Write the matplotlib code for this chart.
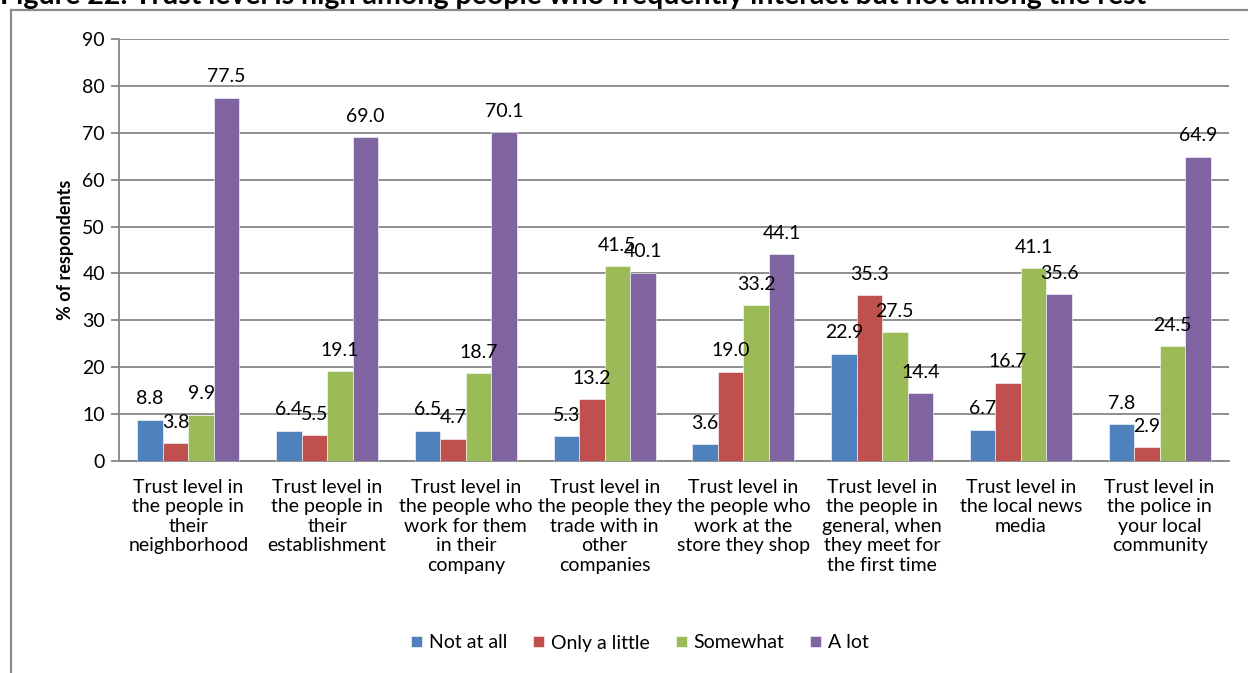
import numpy as np
import matplotlib.pyplot as plt

plt.rcParams['font.family'] = ['Lato', 'DejaVu Sans']

categories = [
    "Trust level in\nthe people in\ntheir\nneighborhood",
    "Trust level in\nthe people in\ntheir\nestablishment",
    "Trust level in\nthe people who\nwork for them\nin their\ncompany",
    "Trust level in\nthe people they\ntrade with in\nother\ncompanies",
    "Trust level in\nthe people who\nwork at the\nstore they shop",
    "Trust level in\nthe people in\ngeneral, when\nthey meet for\nthe first time",
    "Trust level in\nthe local news\nmedia",
    "Trust level in\nthe police in\nyour local\ncommunity",
]
series_names = ["Not at all", "Only a little", "Somewhat", "A lot"]
not_at_all = [8.8, 6.4, 6.5, 5.3, 3.6, 22.9, 6.7, 7.8]
only_a_little = [3.8, 5.5, 4.7, 13.2, 19.0, 35.3, 16.7, 2.9]
somewhat = [9.9, 19.1, 18.7, 41.5, 33.2, 27.5, 41.1, 24.5]
a_lot = [77.5, 69.0, 70.1, 40.1, 44.1, 14.4, 35.6, 64.9]
colors = ["#4F81BD", "#C0504D", "#9BBB59", "#8064A2"]

W, H = 1248, 673
fig = plt.figure(figsize=(W / 100, H / 100), dpi=100)

# outer chart frame (left and top edges visible)
fig.add_artist(plt.Line2D([11 / W, 11 / W], [0, 1 - 10 / H], transform=fig.transFigure,
                          color="#8c8c8c", lw=1.6))
fig.add_artist(plt.Line2D([11 / W, 1], [1 - 10 / H, 1 - 10 / H], transform=fig.transFigure,
                          color="#8c8c8c", lw=1.6))

fig.text(0 / W, 1 - 4 / H,
         "Figure 22: Trust level is high among people who frequently interact but not among the rest",
         fontsize=20.5, fontweight="bold", va="baseline", ha="left")

left, right, top, bottom = 119, 1229, 39, 461
ax = fig.add_axes([left / W, 1 - bottom / H, (right - left) / W, (bottom - top) / H])

fs = 14
x = np.arange(len(categories))
bw = 0.184
all_series = [not_at_all, only_a_little, somewhat, a_lot]
for i, (vals, name, c) in enumerate(zip(all_series, series_names, colors)):
    pos = x + (i - 1.5) * bw
    ax.bar(pos, vals, width=bw, color=c, label=name, zorder=3,
           edgecolor="white", linewidth=0.4)
    for px, v in zip(pos, vals):
        ax.annotate(f"{v:.1f}", (px, v), xytext=(0, 9), textcoords="offset points",
                    ha="center", va="bottom", fontsize=fs, zorder=4)

ax.set_xlim(-0.5, len(categories) - 0.5)
ax.set_ylim(0, 90)
ax.set_yticks(range(0, 91, 10))
ax.yaxis.grid(True, color="#868686", lw=1.3, zorder=0)
ax.set_xticks(x)
ax.set_xticklabels(categories, fontsize=fs, linespacing=1.17)
ax.tick_params(axis="x", length=0, pad=13)
ax.tick_params(axis="y", length=6, color="#868686", width=1.3, labelsize=fs, pad=4)
for s in ["top", "right"]:
    ax.spines[s].set_visible(False)
for s in ["left", "bottom"]:
    ax.spines[s].set_color("#868686")
    ax.spines[s].set_linewidth(1.3)
ax.set_ylabel("% of respondents", fontsize=13, fontweight="bold", labelpad=6)

ax.legend(loc="center", bbox_to_anchor=(640 / W, 1 - 643 / H), bbox_transform=fig.transFigure,
          ncol=4, frameon=False, fontsize=fs, handlelength=0.55, handleheight=0.55,
          handletextpad=0.35, columnspacing=1.35)

fig.savefig("out.png", dpi=100)
